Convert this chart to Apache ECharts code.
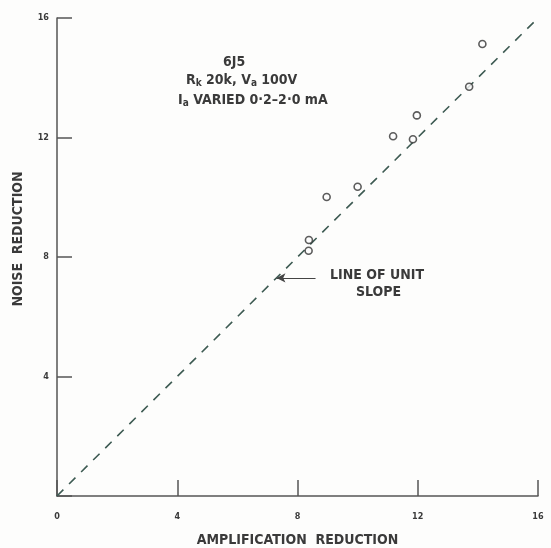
<!DOCTYPE html>
<html>
<head>
<meta charset="utf-8">
<script src="https://cdn.jsdelivr.net/npm/echarts@6/dist/echarts.min.js"></script>
<style>
html,body{margin:0;padding:0;background:#fdfdfc;}
#c{width:551px;height:548px;}
</style>
</head>
<body>
<div id="c"></div>
<script>
// Data
const ampReduction   = [14.15, 13.71, 11.97, 11.18, 11.84, 10.00, 8.97, 8.38, 8.37];
const noiseReduction = [15.13, 13.70, 12.74, 12.04, 11.94, 10.35, 10.01, 8.57, 8.21];
const unitLineX = [0, 16];
const unitLineY = [0, 16];
const xTicks = [0, 4, 8, 12, 16];
const yTicks = [4, 8, 12, 16];
const arrowFrom = [8.6, 7.3];
const arrowTo = [7.3, 7.3];

const FONT = '"DejaVu Sans Condensed", "DejaVu Sans", sans-serif';
const INK = '#3a3a3a';

const chart = echarts.init(document.getElementById('c'));
chart.setOption({
  backgroundColor: '#fdfdfc',
  animation: false,
  grid: {left: 57, right: 13, top: 18, bottom: 52, containLabel: false, outerBoundsMode: 'none'},
  xAxis: {
    type: 'value', min: 0, max: 16, interval: 4,
    name: 'AMPLIFICATION  REDUCTION', nameLocation: 'middle', nameGap: 37,
    nameTextStyle: {fontFamily: FONT, fontWeight: 'bold', fontSize: 14, color: INK},
    axisLine: {lineStyle: {color: '#555', width: 1.5}},
    axisTick: {inside: true, length: 16, lineStyle: {color: '#555', width: 1.5}},
    axisLabel: {
      margin: 16, fontFamily: FONT, fontWeight: 'bold', fontSize: 9, color: INK,
      formatter: v => xTicks.includes(v) ? String(v) : ''
    },
    splitLine: {show: false}
  },
  yAxis: {
    type: 'value', min: 0, max: 16, interval: 4,
    name: 'NOISE  REDUCTION', nameLocation: 'middle', nameGap: 32, nameRotate: 90,
    nameTextStyle: {fontFamily: FONT, fontWeight: 'bold', fontSize: 14, color: INK, padding: [0, 0, 0, 36]},
    axisLine: {lineStyle: {color: '#555', width: 1.5}},
    axisTick: {inside: true, length: 15, lineStyle: {color: '#555', width: 1.5}},
    axisLabel: {
      margin: 8, fontFamily: FONT, fontWeight: 'bold', fontSize: 9, color: INK,
      formatter: v => yTicks.includes(v) ? String(v) : ''
    },
    splitLine: {show: false}
  },
  series: [
    {
      type: 'line',
      data: unitLineX.map((x, i) => [x, unitLineY[i]]),
      symbol: 'none',
      lineStyle: {color: '#3d5a52', width: 1.6, type: [9, 8]},
      markLine: {
        silent: true,
        symbol: ['none', 'arrow'], symbolSize: [7, 9],
        lineStyle: {color: '#444', width: 1.2, type: 'solid'},
        label: {show: false},
        data: [[{coord: arrowFrom}, {coord: arrowTo}]]
      },
      z: 2
    },
    {
      type: 'scatter',
      data: ampReduction.map((x, i) => [x, noiseReduction[i]]),
      symbol: 'circle', symbolSize: 7,
      itemStyle: {color: '#fdfdfc', borderColor: '#333', borderWidth: 1.6},
      z: 3
    }
  ],
  graphic: [
    {type: 'text', left: 223, top: 55, style: {text: '6J5', font: 'bold 14px ' + FONT, fill: INK}},
    {type: 'text', left: 186, top: 73, style: {
      text: 'R{s|k} 20k, V{s|a} 100V', font: 'bold 14px ' + FONT, fill: INK,
      rich: {s: {fontSize: 10, fontWeight: 'bold', fontFamily: FONT, fill: INK, padding: [7, 0, 0, 0]}}
    }},
    {type: 'text', left: 178, top: 93, style: {
      text: 'I{s|a} VARIED 0·2–2·0 mA', font: 'bold 14px ' + FONT, fill: INK,
      rich: {s: {fontSize: 10, fontWeight: 'bold', fontFamily: FONT, fill: INK, padding: [7, 0, 0, 0]}}
    }},
    {type: 'text', left: 330, top: 268, style: {text: 'LINE OF UNIT', font: 'bold 14px ' + FONT, fill: INK}},
    {type: 'text', left: 356, top: 285, style: {text: 'SLOPE', font: 'bold 14px ' + FONT, fill: INK}}
  ]
});
</script>
</body>
</html>
